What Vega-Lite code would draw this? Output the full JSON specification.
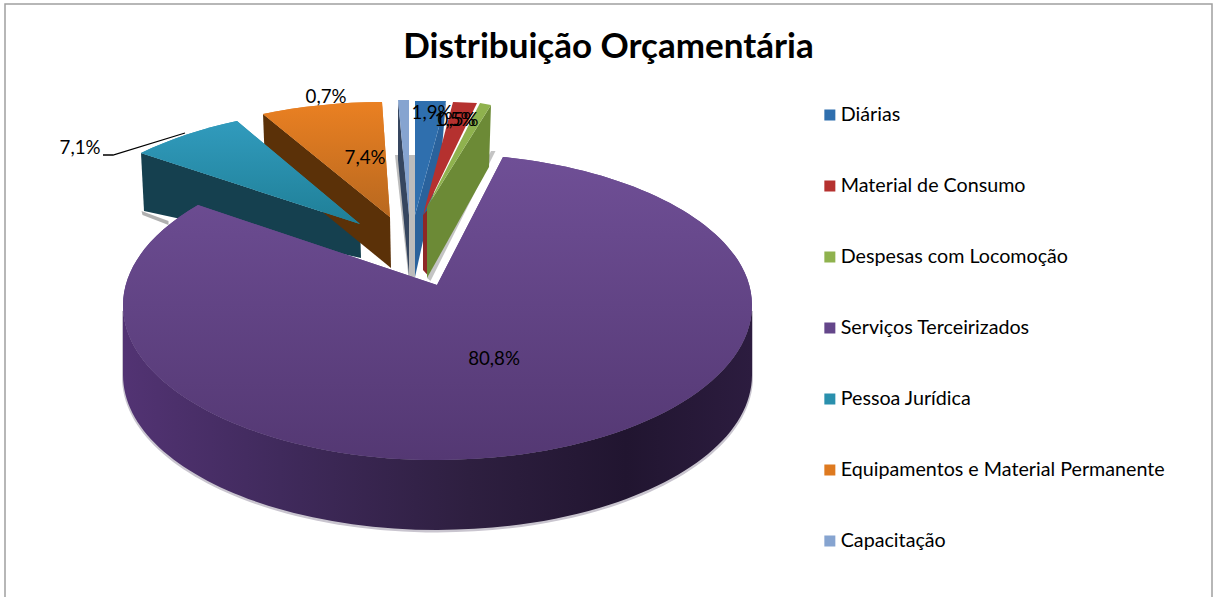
{
"$schema":"https://vega.github.io/schema/vega-lite/v6.json",
"autosize":"none","width":1207,"height":594,
"padding":{"left":5,"top":4,"right":2,"bottom":0},
"background":"white",
"title":{"text":"Distribuição Orçamentária","font":"Lato","fontSize":35,"fontWeight":"bold","color":"#000000","anchor":"middle","offset":-89,"baseline":"alphabetic"},
"view":{"stroke":"#a0a0a0","strokeWidth":1.5,"fill":"white"},
"config":{"font":"Lato"},
"data":{"values":[
{"Categoria":"Diárias","Percentual":1.9,"Rotulo":"1,9%"},
{"Categoria":"Material de Consumo","Percentual":1.5,"Rotulo":"1,5%"},
{"Categoria":"Despesas com Locomoção","Percentual":0.5,"Rotulo":"0,5%"},
{"Categoria":"Serviços Terceirizados","Percentual":80.8,"Rotulo":"80,8%"},
{"Categoria":"Pessoa Jurídica","Percentual":7.1,"Rotulo":"7,1%"},
{"Categoria":"Equipamentos e Material Permanente","Percentual":7.4,"Rotulo":"7,4%"},
{"Categoria":"Capacitação","Percentual":0.7,"Rotulo":"0,7%"}
]},
"resolve":{"scale":{"shape":"independent","color":"independent"}},
"layer":[
{"mark":{"type":"point","filled":true,"opacity":1,"size":121,"shape":"square"},
 "encoding":{
  "color":{"field":"Categoria","type":"nominal","title":null,
   "scale":{"domain":["Diárias","Material de Consumo","Despesas com Locomoção","Serviços Terceirizados","Pessoa Jurídica","Equipamentos e Material Permanente","Capacitação"],"range":["#2f6fae","#b5312f","#8fb24e","#64468a","#2a90ad","#de7a20","#86a4d0"]},
   "legend":{"orient":"none","legendX":815,"legendY":100,"symbolType":"square","symbolSize":121,"symbolStrokeWidth":0,"symbolOpacity":1,"labelFont":"Lato","labelFontSize":19.7,"labelColor":"#000000","labelOffset":1,"rowPadding":49,"clipHeight":22,"labelLimit":400}}
 }},
{"transform":[{"filter":{"field":"Categoria","oneOf":["Serviços Terceirizados","Pessoa Jurídica","Despesas com Locomoção","Capacitação"]}}],
 "mark":{"type":"point","filled":true,"opacity":1,"size":4},
 "encoding":{
  "shape":{"field":"Categoria","type":"nominal","legend":null,"scale":{"domain":["Serviços Terceirizados","Pessoa Jurídica","Despesas com Locomoção","Capacitação"],"range":[
   "M144.5,10L144.5,76A315.5,155.5 0 0 1 -486.5,76L-486.5,10Z",
   "M-467,-90L-466,-86L-440,-76L-440,-80Z",
   "M-117.5,-150L-113,-150L-178,-20L-181.5,-23Z",
   "M-213.5,-146L-193.5,-146L-193.5,-24L-200,-24Z"]}},
  "color":{"field":"Categoria","type":"nominal","legend":null,"scale":{"domain":["Serviços Terceirizados","Pessoa Jurídica","Despesas com Locomoção","Capacitação"],"range":["#c9c5cf","#b0b0b0","#c4c4c4","#bcbcbc"]}}
 }},
{"mark":{"type":"point","filled":true,"opacity":1,"size":4},
 "encoding":{
  "shape":{"field":"Categoria","type":"nominal","legend":null,"scale":{"domain":["Diárias","Material de Consumo","Despesas com Locomoção","Serviços Terceirizados","Pessoa Jurídica","Equipamentos e Material Permanente","Capacitação"],"range":[
   "M-162.5,-200L-193.5,-86L-193.5,-24L-167.5,-141Z",
   "M-185.5,-86L-185.5,-31L-181,-26L-155,-120Z",
   "M-117.5,-196L-119.5,-134L-181.5,-23L-181.5,-94Z",
   "M0,0Z",
   "M-467.5,-148L-248.5,-77L-247.5,-43L-464.5,-90Z",
   "M-345.5,-187L-218.5,-84L-217.5,-33L-343.5,-136Z",
   "M-210.5,-201L-199.5,-86L-199.5,-26L-210.5,-141Z"]}},
  "color":{"field":"Categoria","type":"nominal","legend":null,"scale":{"domain":["Diárias","Material de Consumo","Despesas com Locomoção","Serviços Terceirizados","Pessoa Jurídica","Equipamentos e Material Permanente","Capacitação"],"range":["#2a629c","#8e2825","#6c8a36","#2e1f40","#15404f","#5b3108","#36465f"]}}
 }},
{"mark":{"type":"point","filled":true,"opacity":1,"size":4},
 "encoding":{
  "shape":{"field":"Categoria","type":"nominal","legend":null,"scale":{"domain":["Diárias","Material de Consumo","Despesas com Locomoção","Serviços Terceirizados","Pessoa Jurídica","Equipamentos e Material Permanente","Capacitação"],"range":[
   "M-193.5,-200L-162.5,-200L-193.5,-86Z",
   "M-155.5,-199L-131.5,-198L-185.5,-86Z",
   "M-128.5,-198L-117.5,-196L-181.5,-94Z",
   "M-171.5,-16L-105.5,-144A314.5,151.3 0 0 1 143.5,4A314.5,155 0 0 1 -485.5,4A314.5,155 0 0 1 -410.5,-96Z",
   "M-467.5,-148A314.5,155 0 0 1 -371.5,-180L-248.5,-77Z",
   "M-345.5,-187A314.5,155 0 0 1 -226.5,-199L-218.5,-84Z",
   "M-210.5,-201L-199.5,-201L-199.5,-86Z"]}},
  "color":{"field":"Categoria","type":"nominal","legend":null,
   "scale":{"domain":["Diárias","Material de Consumo","Despesas com Locomoção","Serviços Terceirizados","Pessoa Jurídica","Equipamentos e Material Permanente","Capacitação"],"range":["#2f6fae","#b5312f","#8fb24e","#64468a","#2a90ad","#de7a20","#86a4d0"]}}
 }},
{"transform":[{"filter":{"field":"Categoria","equal":"Pessoa Jurídica"}}],
 "mark":{"type":"point","shape":"M-467.5,-148A314.5,155 0 0 1 -371.5,-180L-248.5,-77Z","filled":true,"opacity":1,"size":4,
  "fill":{"gradient":"linear","x1":0,"y1":0,"x2":0,"y2":1,"stops":[{"offset":0,"color":"#319bbd"},{"offset":1,"color":"#1f7f97"}]}},
 "encoding":{}},
{"transform":[{"filter":{"field":"Categoria","equal":"Equipamentos e Material Permanente"}}],
 "mark":{"type":"point","shape":"M-345.5,-187A314.5,155 0 0 1 -226.5,-199L-218.5,-84Z","filled":true,"opacity":1,"size":4,
  "fill":{"gradient":"linear","x1":0,"y1":0,"x2":0,"y2":1,"stops":[{"offset":0,"color":"#ea8022"},{"offset":1,"color":"#b8681f"}]}},
 "encoding":{}},
{"transform":[{"filter":{"field":"Categoria","equal":"Serviços Terceirizados"}}],
 "mark":{"type":"point","shape":"M143.5,4A314.5,155 0 0 1 -485.5,4L-485.5,74A314.5,155 0 0 0 143.5,74Z","filled":true,"opacity":1,"size":4,
  "fill":{"gradient":"linear","x1":0,"y1":0,"x2":1,"y2":0,"stops":[{"offset":0,"color":"#523373"},{"offset":0.25,"color":"#402a5c"},{"offset":0.55,"color":"#2e1f40"},{"offset":0.8,"color":"#211530"},{"offset":1,"color":"#2c1c3f"}]}},
 "encoding":{}},
{"transform":[{"filter":{"field":"Categoria","equal":"Serviços Terceirizados"}}],
 "mark":{"type":"point","shape":"M-171.5,-16L-105.5,-144A314.5,151.3 0 0 1 143.5,4A314.5,155 0 0 1 -485.5,4A314.5,155 0 0 1 -410.5,-96Z","filled":true,"opacity":1,"size":4,
  "fill":{"gradient":"linear","x1":0,"y1":0,"x2":0,"y2":1,"stops":[{"offset":0,"color":"#6f4f96"},{"offset":1,"color":"#543873"}]}},
 "encoding":{}},
{"transform":[{"filter":{"field":"Categoria","equal":"Pessoa Jurídica"}}],
 "mark":{"type":"point","shape":"M-505.5,-146L-495.5,-146L-423.5,-168","filled":false,"opacity":1,"size":4,"stroke":"#000000","strokeWidth":1.3},
 "encoding":{}},
{"transform":[{"filter":{"field":"Categoria","equal":"Diárias"}}],"mark":{"type":"text","font":"Lato","fontSize":18.7,"color":"#000000","align":"center","baseline":"middle","dx":-176.5,"dy":-188},"encoding":{"text":{"field":"Rotulo"}}},
{"transform":[{"filter":{"field":"Categoria","equal":"Material de Consumo"}}],"mark":{"type":"text","font":"Lato","fontSize":18.7,"color":"#000000","align":"center","baseline":"middle","dx":-153.5,"dy":-181},"encoding":{"text":{"field":"Rotulo"}}},
{"transform":[{"filter":{"field":"Categoria","equal":"Despesas com Locomoção"}}],"mark":{"type":"text","font":"Lato","fontSize":18.7,"color":"#000000","align":"center","baseline":"middle","dx":-150.5,"dy":-181},"encoding":{"text":{"field":"Rotulo"}}},
{"transform":[{"filter":{"field":"Categoria","equal":"Serviços Terceirizados"}}],"mark":{"type":"text","font":"Lato","fontSize":18.7,"color":"#000000","align":"center","baseline":"middle","dx":-114.5,"dy":58},"encoding":{"text":{"field":"Rotulo"}}},
{"transform":[{"filter":{"field":"Categoria","equal":"Pessoa Jurídica"}}],"mark":{"type":"text","font":"Lato","fontSize":18.7,"color":"#000000","align":"center","baseline":"middle","dx":-528.5,"dy":-153},"encoding":{"text":{"field":"Rotulo"}}},
{"transform":[{"filter":{"field":"Categoria","equal":"Equipamentos e Material Permanente"}}],"mark":{"type":"text","font":"Lato","fontSize":18.7,"color":"#000000","align":"center","baseline":"middle","dx":-243.5,"dy":-143},"encoding":{"text":{"field":"Rotulo"}}},
{"transform":[{"filter":{"field":"Categoria","equal":"Capacitação"}}],"mark":{"type":"text","font":"Lato","fontSize":18.7,"color":"#000000","align":"center","baseline":"middle","dx":-282.5,"dy":-204},"encoding":{"text":{"field":"Rotulo"}}}
]
}
